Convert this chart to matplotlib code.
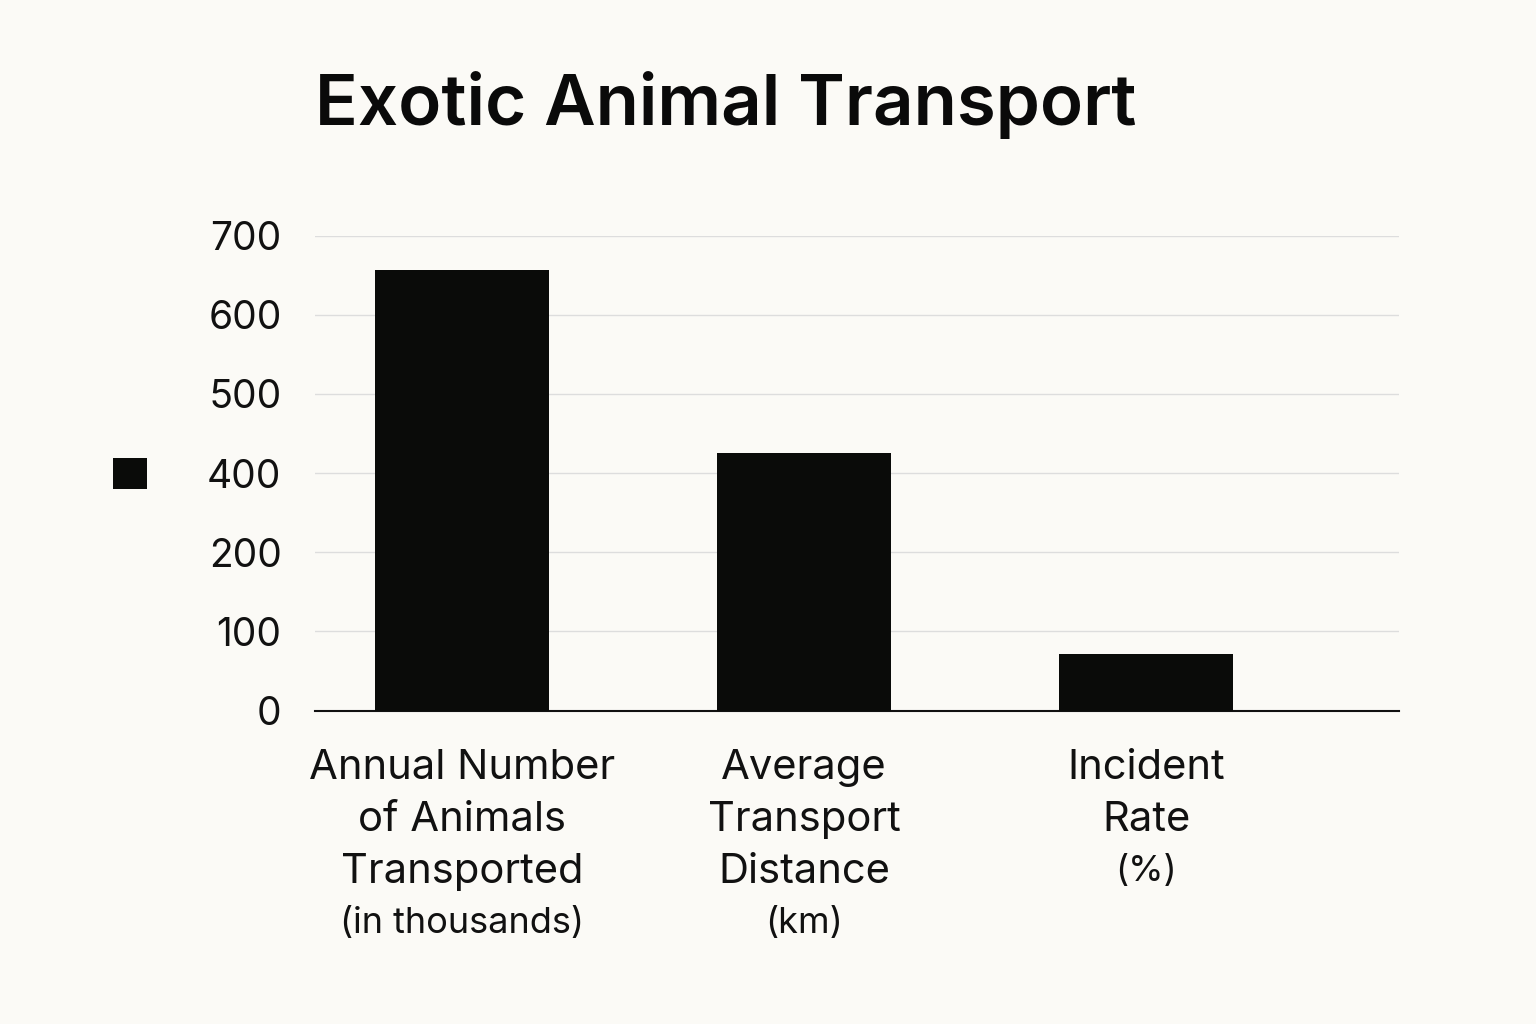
import numpy as np
import matplotlib
matplotlib.use("Agg")
import matplotlib.pyplot as plt
from matplotlib.patches import Patch
from matplotlib.transforms import blended_transform_factory

plt.rcParams["font.family"] = "Inter"

categories = [
    ["Annual Number", "of Animals", "Transported", "(in thousands)"],
    ["Average", "Transport", "Distance", "(km)"],
    ["Incident", "Rate", "(%)"],
]
values = [657, 425, 71]
tick_values = [0, 100, 200, 400, 500, 600, 700]
tick_pos = np.arange(len(tick_values))


def forward(v):
    return np.interp(v, tick_values, tick_pos)


def inverse(p):
    return np.interp(p, tick_pos, tick_values)


bg = "#fbfaf6"
fig = plt.figure(figsize=(15.36, 10.24), dpi=100, facecolor=bg)
ax = fig.add_axes([0.205, 0.306, 0.706, 0.464], facecolor=bg)
ax.set_yscale("function", functions=(forward, inverse))
ax.set_ylim(0, 700)
ax.set_xlim(-0.43, 2.74)

x = np.arange(len(values))
ax.bar(x, values, width=0.51, color="#0a0b09", zorder=3)

ax.set_yticks(tick_values)
ax.set_yticklabels([str(t) for t in tick_values], fontsize=28, color="#111")
ax.yaxis.set_minor_locator(matplotlib.ticker.NullLocator())
ax.tick_params(axis="y", length=0, pad=24)
ax.set_xticks([])
ax.grid(axis="y", color="#dddddd", linewidth=1, zorder=0)
for s in ["top", "right", "left"]:
    ax.spines[s].set_visible(False)
ax.spines["bottom"].set_color("#111")
ax.spines["bottom"].set_linewidth(1.5)

trans = blended_transform_factory(ax.transData, fig.transFigure)
for xi, lines in zip(x, categories):
    for i, line in enumerate(lines):
        small = line.startswith("(")
        ax.text(xi, 1 - (768 + 52 * i) / 1024, line, transform=trans,
                ha="center", va="center", fontsize=26 if small else 30,
                color="#111", clip_on=False)

fig.text(315 / 1536, 1 - 105 / 1024, "Exotic Animal Transport",
         fontsize=51, fontweight="semibold", color="#0a0a0a", ha="left", va="center")

fig.legend(handles=[Patch(facecolor="#0a0b09")], labels=[""],
           loc="center", bbox_to_anchor=(130 / 1536, 1 - 476 / 1024),
           frameon=False, prop={"size": 28}, handlelength=0.85, handleheight=0.85,
           handletextpad=0)

fig.savefig("out.png", dpi=100, facecolor=bg)
